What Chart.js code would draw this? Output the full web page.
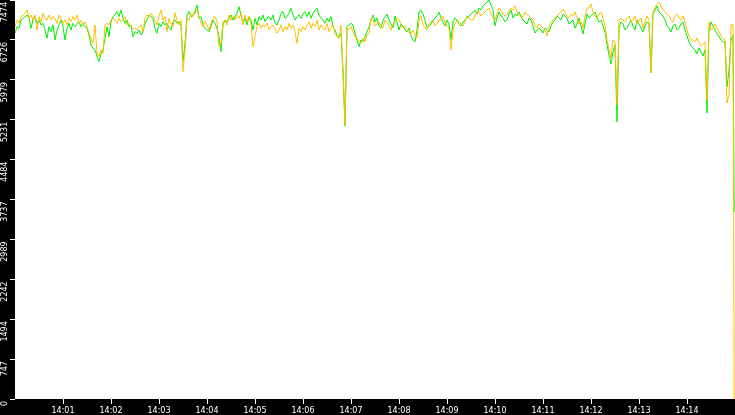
<!DOCTYPE html>
<html>
<head>
<meta charset="utf-8">
<script src="https://cdn.jsdelivr.net/npm/chart.js@4.4.1/dist/chart.umd.min.js"></script>
<style>
  html, body { margin: 0; padding: 0; background: #000; }
  #wrap { width: 735px; height: 415px; }
</style>
</head>
<body>
<div id="wrap"><canvas id="c" width="735" height="415"></canvas></div>
<script>
// ---- data ----
const xTickLabels = ['14:01','14:02','14:03','14:04','14:05','14:06','14:07','14:08','14:09','14:10','14:11','14:12','14:13','14:14'];
const yTickLabels = ['0','747','1494','2242','2989','3737','4484','5231','5979','6726','7474'];
const yMaxValue = 7474;
const sampleSeconds = 2.5;    // one reading every 2.5 s from 14:00:00
const lastSampleSecond = 899; // final reading at 14:14:59

const seriesGreen = [
  6850,6975,6943,7099,7131,7162,7193,7131,6943,7099,
  7162,7037,7099,7006,7037,6912,6756,6975,6881,7006,
  6725,6912,7006,7099,6975,6725,6943,7037,6912,7037,
  6975,7037,7068,6975,7037,6975,6943,6818,6631,6569,
  6538,6413,6319,6475,6538,6756,6975,6787,7068,7162,
  7193,7256,7162,7287,7131,7037,7099,6975,7006,6787,
  6881,6850,6912,6818,6881,7037,7099,7193,7162,7131,
  6943,6850,7037,6975,7068,7006,7037,6943,6912,7068,
  7099,7037,7068,7006,6319,6662,7193,7256,7162,7193,
  7256,7380,7131,7162,7006,6943,6912,6881,6975,7099,
  7037,6943,6787,6506,7006,7099,7068,7131,7193,7099,
  7162,7224,7349,7193,7037,7131,7006,7162,7099,6912,
  7131,7006,7162,7099,7193,7068,7131,7162,7099,7193,
  7037,7006,7099,7224,7256,7131,7162,7224,7318,7193,
  7099,7162,7193,7131,7224,7256,7162,7256,7131,7224,
  7287,7318,7193,7131,7099,7037,7131,7068,7162,6975,
  6912,6818,6787,6850,6107,5114,6975,7006,7037,7006,
  6850,6725,6600,6725,6694,6787,6881,6975,7099,7193,
  7062,7137,6987,6950,7099,7156,7212,7099,7024,6950,
  7174,7062,6912,7024,6987,6912,6875,6950,6800,6725,
  6687,6912,7249,7287,7212,7099,6950,6987,7024,7099,
  7137,7174,7249,7137,7062,6987,7099,7024,6725,7062,
  7137,7099,7024,6987,7062,7099,7137,7174,7212,7249,
  7287,7212,7324,7287,7362,7399,7437,7474,7380,7287,
  6987,7137,7249,7174,7137,7062,7099,7212,7287,7137,
  7212,7174,7249,7174,7099,7062,7024,7137,7099,6987,
  6856,6912,6950,6912,6856,6950,6912,6875,6987,7062,
  7099,7174,7137,7099,7212,7174,7137,7024,7062,7099,
  6950,7024,7137,6987,6837,7024,7212,7137,7174,7212,
  7249,7137,7062,7099,6987,6875,6631,6444,6275,6500,
  6631,5189,6950,7062,7024,6912,6950,7024,7099,6987,
  6912,7099,7024,6950,6875,6987,7062,7024,6107,7212,
  7287,7362,7249,7212,7174,7099,6987,6950,6875,6987,
  7024,6912,6950,7024,7062,6912,6800,6687,6612,6575,
  6538,6463,6575,6500,6425,6538,5358,6912,7062,6987,
  6912,6837,6800,6725,6687,6687,5845,6162,6725,6818,
  3503
];

const seriesOrange = [
  6975,7099,7037,7162,7193,7224,7287,7131,7193,7099,
  7193,6912,7162,7068,7224,7131,7099,7193,7099,7162,
  7131,7037,7193,7131,7037,7099,7006,7131,7068,7162,
  7099,7193,7037,7099,7006,7068,6975,6850,6756,6662,
  7006,6475,6413,6538,6475,7006,7037,7006,7099,7131,
  7099,7037,7131,7068,7099,7162,7006,7037,6975,6943,
  6943,6912,6975,7006,6881,7131,7193,7162,7224,7162,
  7099,7006,7162,7287,7099,7162,6881,7131,7037,6975,
  7237,7099,7006,7099,6132,6538,7131,7099,7224,7162,
  7224,7287,7162,7037,6975,7068,7006,6912,7037,7131,
  7162,7068,6600,6662,7068,7099,7006,7193,7099,7162,
  7099,7193,7131,7224,7006,7193,7068,7162,7037,6600,
  6787,6975,7037,6943,7006,6975,7037,6912,6975,7006,
  6943,6850,6912,7006,6881,6975,6912,7037,6943,7006,
  6881,6662,6943,6881,6975,6912,7006,7068,6943,7037,
  6975,7099,6912,7006,6943,6912,7037,6881,6975,7006,
  6850,6787,6756,7006,6163,5133,6943,6912,6975,6881,
  6787,6756,6694,6662,6756,6694,6818,6850,7131,7099,
  6987,7024,7062,6987,6950,7099,7062,6987,6912,7024,
  7062,7137,7099,7024,6950,6987,6912,6856,6837,6912,
  6837,6762,7099,7174,7024,6950,6912,7024,7062,7099,
  6987,7024,7099,7099,7174,7062,6987,6950,6538,6912,
  7024,7099,7062,7024,6987,7062,7174,7137,7099,7099,
  7174,7249,7249,7174,7212,7249,7287,7324,7212,7137,
  7099,7212,7324,7287,7212,7174,7212,7249,7324,7287,
  7362,7249,7212,7137,7174,7249,7212,7174,7137,7099,
  6987,6950,7024,6987,6950,6912,6800,6987,7062,7099,
  7137,7174,7212,7249,7305,7249,7174,7137,7212,7174,
  7249,7137,7024,7062,6950,7174,7324,7324,7399,7249,
  7174,7137,7212,7249,7137,6987,6725,6538,6388,6725,
  6687,5507,7099,7137,7099,7062,7137,7174,7062,7099,
  7174,7024,7099,7137,6950,7062,7174,7099,6107,7249,
  7324,7399,7437,7362,7287,7249,7212,7174,7099,7062,
  7174,7212,7137,7099,7174,7062,6912,6800,6725,6725,
  6687,6762,6687,6612,6650,6687,5601,7062,6912,6950,
  7024,6950,6875,6800,6762,6725,5545,5695,7006,7024,
  0
];

// ---- build points ----
function toPoints(values) {
  return values.map((v, i) => ({
    x: i === values.length - 1 ? lastSampleSecond : i * sampleSeconds,
    y: v
  }));
}

const bgPlugin = {
  id: 'bg',
  beforeDraw(chart) {
    const { ctx, chartArea: a } = chart;
    ctx.save();
    ctx.fillStyle = '#000';
    ctx.fillRect(0, 0, chart.width, chart.height);
    ctx.fillStyle = '#fff';
    ctx.fillRect(a.left, a.top, a.right - a.left, a.bottom - a.top);
    ctx.restore();
  }
};

const tickFont = { family: 'DejaVu Sans', size: 8 };

new Chart(document.getElementById('c'), {
  type: 'line',
  data: {
    datasets: [
      { data: toPoints(seriesOrange), borderColor: '#ffbf00', borderWidth: 1, pointRadius: 0, tension: 0, fill: false },
      { data: toPoints(seriesGreen),  borderColor: '#00f000', borderWidth: 1, pointRadius: 0, tension: 0, fill: false }
    ]
  },
  options: {
    responsive: false,
    animation: false,
    devicePixelRatio: 1,
    layout: { padding: 0 },
    plugins: { legend: { display: false }, tooltip: { enabled: false } },
    scales: {
      x: {
        type: 'linear',
        min: 0,
        max: 900,
        afterBuildTicks: s => { s.ticks = xTickLabels.map((l, i) => ({ value: (i + 1) * 60 })); },
        afterFit: s => { s.height = 16; s.paddingLeft = 0; s.paddingRight = 0; },
        grid: { drawOnChartArea: false, color: '#fff', tickLength: 5, tickWidth: 1 },
        border: { display: false },
        ticks: {
          color: '#fff', font: tickFont, padding: 2, autoSkip: false,
          maxRotation: 0, minRotation: 0,
          callback: (v, i) => xTickLabels[i]
        }
      },
      y: {
        type: 'linear',
        min: 0,
        max: yMaxValue,
        afterBuildTicks: s => { s.ticks = yTickLabels.map((l, i) => ({ value: i * yMaxValue / (yTickLabels.length - 1) })); },
        afterFit: s => { s.width = 15; s.paddingTop = 0; s.paddingBottom = 0; },
        grid: { drawOnChartArea: false, color: '#fff', tickLength: 5, tickWidth: 1 },
        border: { display: false },
        ticks: {
          color: '#fff', font: tickFont, padding: 5, autoSkip: false,
          minRotation: 90, maxRotation: 90, crossAlign: 'near', labelOffset: 2,
          callback: (v, i) => yTickLabels[i]
        }
      }
    }
  },
  plugins: [bgPlugin]
});
</script>
</body>
</html>
